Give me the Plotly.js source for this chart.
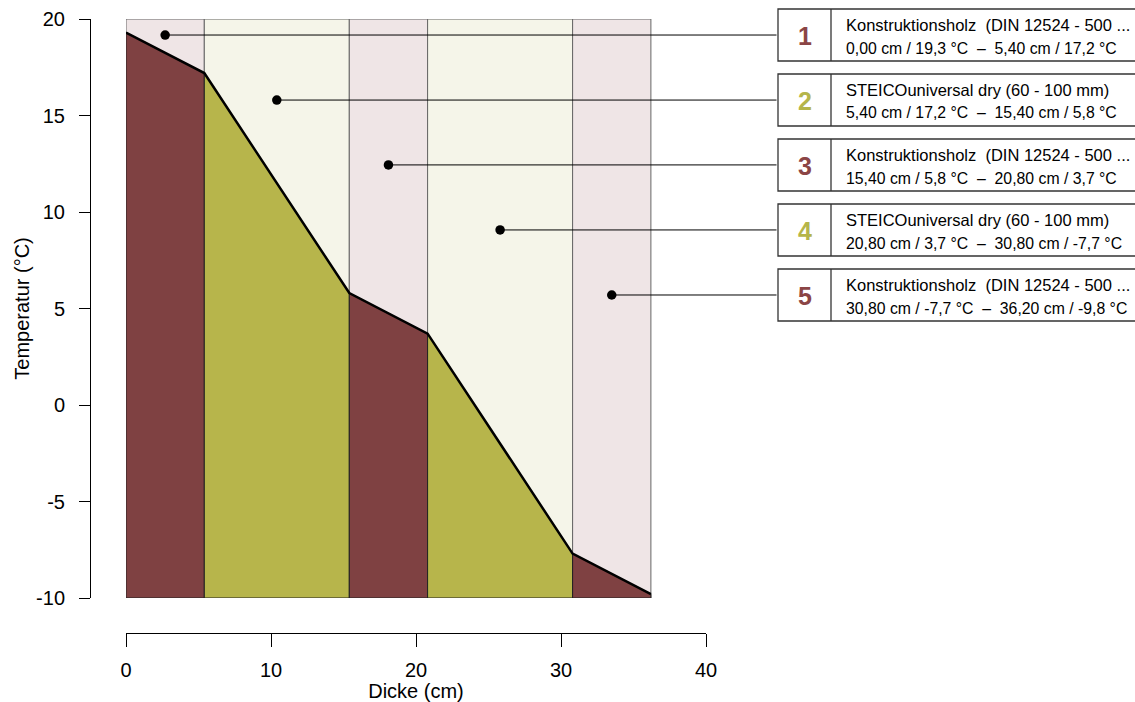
<!DOCTYPE html>
<html>
<head>
<meta charset="utf-8">
<script src="https://cdn.plot.ly/plotly-3.0.1.min.js"></script>
<style>html,body{margin:0;padding:0;background:#fff;}#chart{width:1135px;height:702px;}</style>
</head>
<body>
<div id="chart"></div>
<script>
// ---- data ----
const layerX = [0, 5.4, 15.4, 20.8, 30.8, 36.2];          // layer boundaries (cm)
const layerTemp = [19.3, 17.2, 5.8, 3.7, -7.7, -9.8];      // temperature at boundaries (°C)
const layerType = ['holz', 'steico', 'holz', 'steico', 'holz'];
const layerNames = [
  'Konstruktionsholz  (DIN 12524 - 500 ...',
  'STEICOuniversal dry (60 - 100 mm)',
  'Konstruktionsholz  (DIN 12524 - 500 ...',
  'STEICOuniversal dry (60 - 100 mm)',
  'Konstruktionsholz  (DIN 12524 - 500 ...'
];
const labelNumbers = ['1', '2', '3', '4', '5'];
const labelDotY = [19.17, 15.8, 12.44, 9.07, 5.7];         // label dot heights (°C)
const xTicks = [0, 10, 20, 30, 40];
const yTicks = [-10, -5, 0, 5, 10, 15, 20];
const yMin = -10, yMax = 20, xMin = 0, xMax = 40;

// ---- styles ----
const darkColor = {holz: '#7f4142', steico: '#b7b54b'};
const lightColor = {holz: '#efe5e6', steico: '#f5f5e9'};
const numColor = {holz: '#8b4545', steico: '#b5b54a'};
const FONT = 'Liberation Sans, Arial, sans-serif';

const W = 1135, H = 702, ML = 90, MR = 429, MT = 19, MB = 69;
const plotLeftPx = 126, plotRightPx = 706;
function px(p) { return (p - ML) / (W - ML - MR); }
function py(p) { return (H - MB - p) / (H - MT - MB); }
function dataXFromPx(p) { return xMin + (p - plotLeftPx) * (xMax - xMin) / (plotRightPx - plotLeftPx); }
function fmt(v, d) { return v.toFixed(d).replace('.', ','); }
const NB = '\u00A0';

const traces = [];
// background layer rectangles
for (let i = 0; i < layerType.length; i++) {
  traces.push({
    x: [layerX[i], layerX[i], layerX[i + 1], layerX[i + 1], layerX[i]],
    y: [yMin, yMax, yMax, yMin, yMin],
    mode: 'lines', fill: 'toself', fillcolor: lightColor[layerType[i]],
    line: {color: '#666', width: 1}, hoverinfo: 'skip', showlegend: false
  });
}
// filled polygons below the temperature
for (let i = 0; i < layerType.length; i++) {
  traces.push({
    x: [layerX[i], layerX[i], layerX[i + 1], layerX[i + 1], layerX[i]],
    y: [yMin, layerTemp[i], layerTemp[i + 1], yMin, yMin],
    mode: 'lines', fill: 'toself', fillcolor: darkColor[layerType[i]],
    line: {color: '#222', width: 1}, hoverinfo: 'skip', showlegend: false
  });
}
// temperature line
traces.push({
  x: layerX, y: layerTemp, mode: 'lines',
  line: {color: '#000', width: 2.5}, hoverinfo: 'skip', showlegend: false
});
// label dots
const dotX = layerType.map((_, i) => (layerX[i] + layerX[i + 1]) / 2);
traces.push({
  x: dotX, y: labelDotY, mode: 'markers',
  marker: {color: '#000', size: 9.5}, hoverinfo: 'skip', showlegend: false, cliponaxis: false
});

const shapes = [];
const annotations = [];
const boxLeft = 778, boxDiv = 831, boxRight = 1150, boxTop0 = 9, boxH = 52, boxStep = 65;
for (let i = 0; i < layerType.length; i++) {
  const top = boxTop0 + boxStep * i, bot = top + boxH, mid = top + boxH / 2;
  shapes.push({type: 'rect', xref: 'paper', yref: 'paper', x0: px(boxLeft), x1: px(boxRight),
    y0: py(bot), y1: py(top), line: {color: '#333', width: 1.3}, fillcolor: 'rgba(0,0,0,0)'});
  shapes.push({type: 'line', xref: 'paper', yref: 'paper', x0: px(boxDiv), x1: px(boxDiv),
    y0: py(bot), y1: py(top), line: {color: '#333', width: 1.3}});
  annotations.push({xref: 'paper', yref: 'paper', x: px((boxLeft + boxDiv) / 2), y: py(mid + 1),
    text: '<b>' + labelNumbers[i] + '</b>', showarrow: false, xanchor: 'center', yanchor: 'middle',
    font: {family: FONT, size: 25, color: numColor[layerType[i]]}});
  annotations.push({xref: 'paper', yref: 'paper', x: px(844), y: py(mid - 10),
    text: layerNames[i].replace(/  /g, ' ' + NB), showarrow: false, xanchor: 'left', yanchor: 'middle',
    font: {family: FONT, size: 16.5, color: '#000'}});
  const rangeTxt = fmt(layerX[i], 2) + ' cm / ' + fmt(layerTemp[i], 1) + ' °C ' + NB + '–' + NB + ' ' +
    fmt(layerX[i + 1], 2) + ' cm / ' + fmt(layerTemp[i + 1], 1) + ' °C';
  annotations.push({xref: 'paper', yref: 'paper', x: px(844), y: py(mid + 13),
    text: rangeTxt, showarrow: false, xanchor: 'left', yanchor: 'middle',
    font: {family: FONT, size: 15.8, color: '#000'}});
  // leader line from dot to box
  annotations.push({xref: 'x', yref: 'y', x: dotX[i], y: labelDotY[i],
    axref: 'x', ayref: 'y', ax: dataXFromPx(boxLeft), ay: labelDotY[i],
    text: '', showarrow: true, arrowhead: 0, arrowwidth: 1, arrowcolor: '#000',
    standoff: 0, startstandoff: 0});
}

const layout = {
  width: W, height: H,
  margin: {l: ML, r: MR, t: MT, b: MB, pad: 0},
  paper_bgcolor: '#fff', plot_bgcolor: 'rgba(0,0,0,0)',
  showlegend: false,
  font: {family: FONT, size: 20, color: '#000'},
  xaxis: {
    domain: [px(plotLeftPx), 1], range: [xMin, xMax], anchor: 'free', position: 0,
    tickvals: xTicks, ticktext: xTicks.map(String), ticks: 'outside', ticklen: 13, tickwidth: 1, tickcolor: '#000',
    showline: true, linecolor: '#000', linewidth: 1, showgrid: false, zeroline: false,
    ticklabelstandoff: 6,
    tickfont: {family: FONT, size: 20, color: '#000'},
    title: {text: 'Dicke (cm)', font: {family: FONT, size: 20, color: '#000'}, standoff: 4}
  },
  yaxis: {
    domain: [py(598), 1], range: [yMin, yMax], anchor: 'free', position: 0,
    tickvals: yTicks, ticktext: yTicks.map(String), ticks: 'outside', ticklen: 11, tickwidth: 1, tickcolor: '#000',
    showline: true, linecolor: '#000', linewidth: 1, showgrid: false, zeroline: false,
    ticklabelstandoff: 10,
    tickfont: {family: FONT, size: 20, color: '#000'},
    title: {text: 'Temperatur (°C)', font: {family: FONT, size: 20, color: '#000'}, standoff: 0}
  },
  shapes: shapes,
  annotations: annotations
};

Plotly.newPlot('chart', traces, layout, {staticPlot: true, displayModeBar: false});
</script>
</body>
</html>
